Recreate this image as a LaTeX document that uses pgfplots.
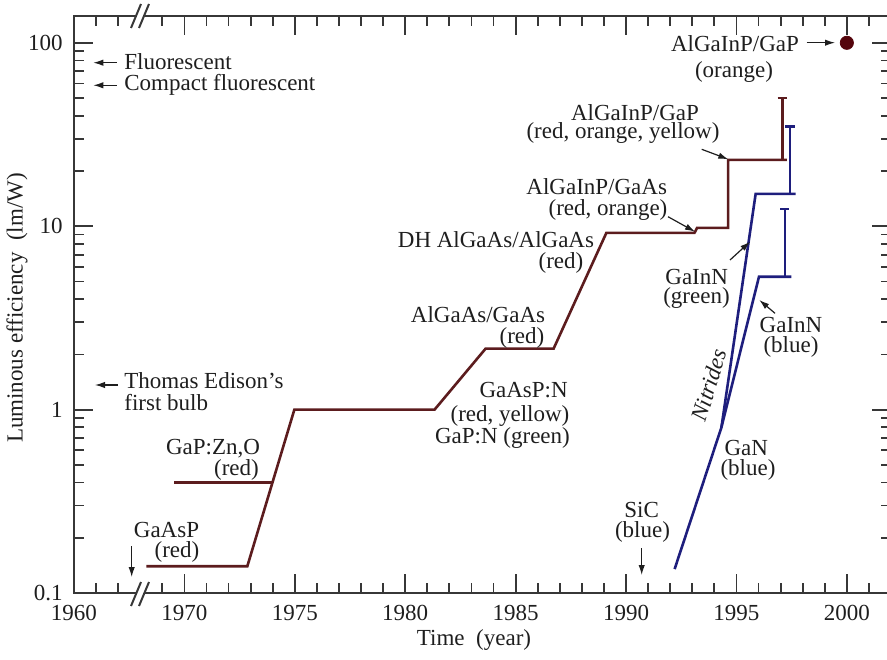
\documentclass[border=0pt]{standalone}
\usepackage{fontspec}
\setmainfont{Liberation Serif}
\usepackage{pgfplots}
\pgfplotsset{compat=1.18}
\usetikzlibrary{arrows.meta}

\definecolor{axisgray}{RGB}{55,55,55}
\definecolor{ledred}{RGB}{92,28,30}
\definecolor{ledblue}{RGB}{30,30,125}
\definecolor{dotred}{RGB}{85,5,12}
\definecolor{txt}{RGB}{30,30,30}

\begin{document}
\begin{tikzpicture}[font=\fontsize{11.5}{13.8}\selectfont,
  >={Latex[length=5pt,width=3.2pt]}]
% x positions left of the axis break are shifted by +5 years (1960 sits at 1965)
\begin{axis}[
  at={(0,0)}, anchor=south west,
  scale only axis, width=408.5pt, height=288.5pt,
  xmin=1965, xmax=2002, ymin=0.1, ymax=140,
  ymode=log,
  axis line style={line width=1pt, axisgray},
  every tick/.style={line width=0.9pt, axisgray},
  major tick length=9.5pt, minor tick length=5pt,
  xtick={1965,1970,1975,1980,1985,1990,1995,2000},
  xticklabels={1960,1970,1975,1980,1985,1990,1995,2000},
  minor xtick={1966,1967,1969,1971,1972,1973,1974,1976,1977,1978,1979,
    1981,1982,1983,1984,1986,1987,1988,1989,1991,1992,1993,1994,
    1996,1997,1998,1999,2001},
  ytick={0.1,1,10,100}, yticklabels={0.1,1,10,100},
  minor ytick={0.2,0.3,0.4,0.5,0.6,0.7,0.8,0.9,2,3,4,5,6,7,8,9,
    20,30,40,50,60,70,80,90},
  xticklabel style={inner sep=0pt, yshift=-6pt, text=txt},
  yticklabel style={inner sep=0pt, xshift=-5.5pt, text=txt},
  /pgf/number format/assume math mode=true,
  tick label style={font=\fontsize{11.5}{13.8}\selectfont},
]
% III-V arsenide / phosphide history
\addplot[ledred, line width=1.3pt] coordinates {
  (1968.28,0.14) (1972.85,0.14) (1974.98,1.0) (1981.33,1.0)
  (1983.64,2.15) (1986.72,2.15) (1989.11,9.2) (1993.10,9.2)
  (1993.22,9.8) (1994.62,9.8) (1994.62,23) (1997.28,23)};
\addplot[ledred, line width=1.3pt] coordinates {(1969.55,0.4) (1974.0,0.4)};
\addplot[ledred, line width=1.3pt] coordinates {(1997.08,23) (1997.08,50)};
\addplot[ledred, line width=1.3pt] coordinates {(1996.86,50) (1997.30,50)};
% nitrides
\addplot[ledblue, line width=1.3pt] coordinates {
  (1992.2,0.135) (1994.32,0.80) (1995.87,15) (1997.68,15)};
\addplot[ledblue, line width=1.3pt] coordinates {
  (1994.32,0.80) (1996.02,5.3) (1997.49,5.3)};
\addplot[ledblue, line width=1.3pt] coordinates {(1997.43,15) (1997.43,35)};
\addplot[ledblue, line width=1.3pt] coordinates {(1997.21,35) (1997.65,35)};
\addplot[ledblue, line width=1.3pt] coordinates {(1997.19,5.3) (1997.19,12.4)};
\addplot[ledblue, line width=1.3pt] coordinates {(1996.98,12.4) (1997.40,12.4)};
% best orange device
\addplot[only marks, mark=*, mark size=3.3pt, dotred] coordinates {(2000,100)};
\end{axis}

\begin{scope}[shift={(-37pt,296.5pt)}, x=0.5pt, y=-0.5pt, text=txt]
  % axis break marks
  \fill[white] (135.2,596) -- (143.2,596) -- (145.7,590) -- (137.7,590) -- cycle;
  \fill[white] (134.75,19) -- (142.75,19) -- (145.25,13) -- (137.25,13) -- cycle;
  \draw[axisgray, line width=1pt] (131,606) -- (141,582) (139,606) -- (149,582);
  \draw[axisgray, line width=1pt] (131,28) -- (141,4) (139,28) -- (149,4);

  % axis titles
  \node at (474,640) {Time\ \ (year)};
  \node[rotate=90] at (17,308) {Luminous efficiency\ \ (lm/W)};

  % reference light sources
  \draw[->, txt, line width=0.6pt] (116.7,62.7) -- (93.3,62.7);
  \node[anchor=west, inner sep=0pt] at (124,62) {Fluorescent};
  \draw[->, txt, line width=0.6pt] (116.7,85.3) -- (93.3,85.3);
  \node[anchor=west, inner sep=0pt] at (124,85) {Compact fluorescent};
  \draw[->, txt, line width=0.6pt] (118,385) -- (95,385);
  \node[anchor=west, inner sep=0pt] at (124,381) {Thomas Edison's};
  \node[anchor=west, inner sep=0pt] at (124,403) {first bulb};

  % device labels
  \node at (213,449) {GaP:Zn,O};
  \node at (236.5,470) {(red)};
  \node at (166.5,530) {GaAsP};
  \node at (177,551.7) {(red)};
  \draw[->, txt, line width=0.6pt] (131.7,546) -- (131.7,577);

  \node at (478,315) {AlGaAs/GaAs};
  \node at (522,338) {(red)};
  \node at (496,240) {DH AlGaAs/AlGaAs};
  \node at (561,263) {(red)};

  \node at (523.6,390) {GaAsP:N};
  \node at (510,416) {(red, yellow)};
  \node at (502.5,438.3) {GaP:N (green)};

  \node at (596.7,186.7) {AlGaInP/GaAs};
  \node at (608,210) {(red, orange)};
  \draw[->, txt, line width=0.6pt] (668,216.7) -- (695,231.7);

  \node at (635,112.7) {AlGaInP/GaP};
  \node at (623,133.3) {(red, orange, yellow)};
  \draw[->, txt, line width=0.6pt] (701.7,149.3) -- (728.3,159.3);

  \node at (735,43.3) {AlGaInP/GaP};
  \node at (734,71.7) {(orange)};
  \draw[->, txt, line width=0.6pt] (806.7,42.7) -- (835,42.7);

  \node at (696.7,276.7) {GaInN};
  \node at (696.5,298.3) {(green)};
  \draw[->, txt, line width=0.6pt] (730,260) -- (750,241.7);

  \node at (791,325) {GaInN};
  \node at (791,346.7) {(blue)};
  \draw[->, txt, line width=0.6pt] (775,313.3) -- (759.3,300);

  \node[rotate=73, inner sep=0pt, font=\fontsize{11.5}{13.8}\selectfont\itshape] at (709,385) {Nitrides};
  \node at (746.3,448.3) {GaN};
  \node at (748,470) {(blue)};

  \node at (641.7,510) {SiC};
  \node at (642.5,531.7) {(blue)};
  \draw[->, txt, line width=0.6pt] (641.7,548.3) -- (641.7,575);
\end{scope}

\pgfresetboundingbox
\path[use as bounding box] (-37pt,-33pt) rectangle (406.5pt,296.5pt);
\end{tikzpicture}
\end{document}
